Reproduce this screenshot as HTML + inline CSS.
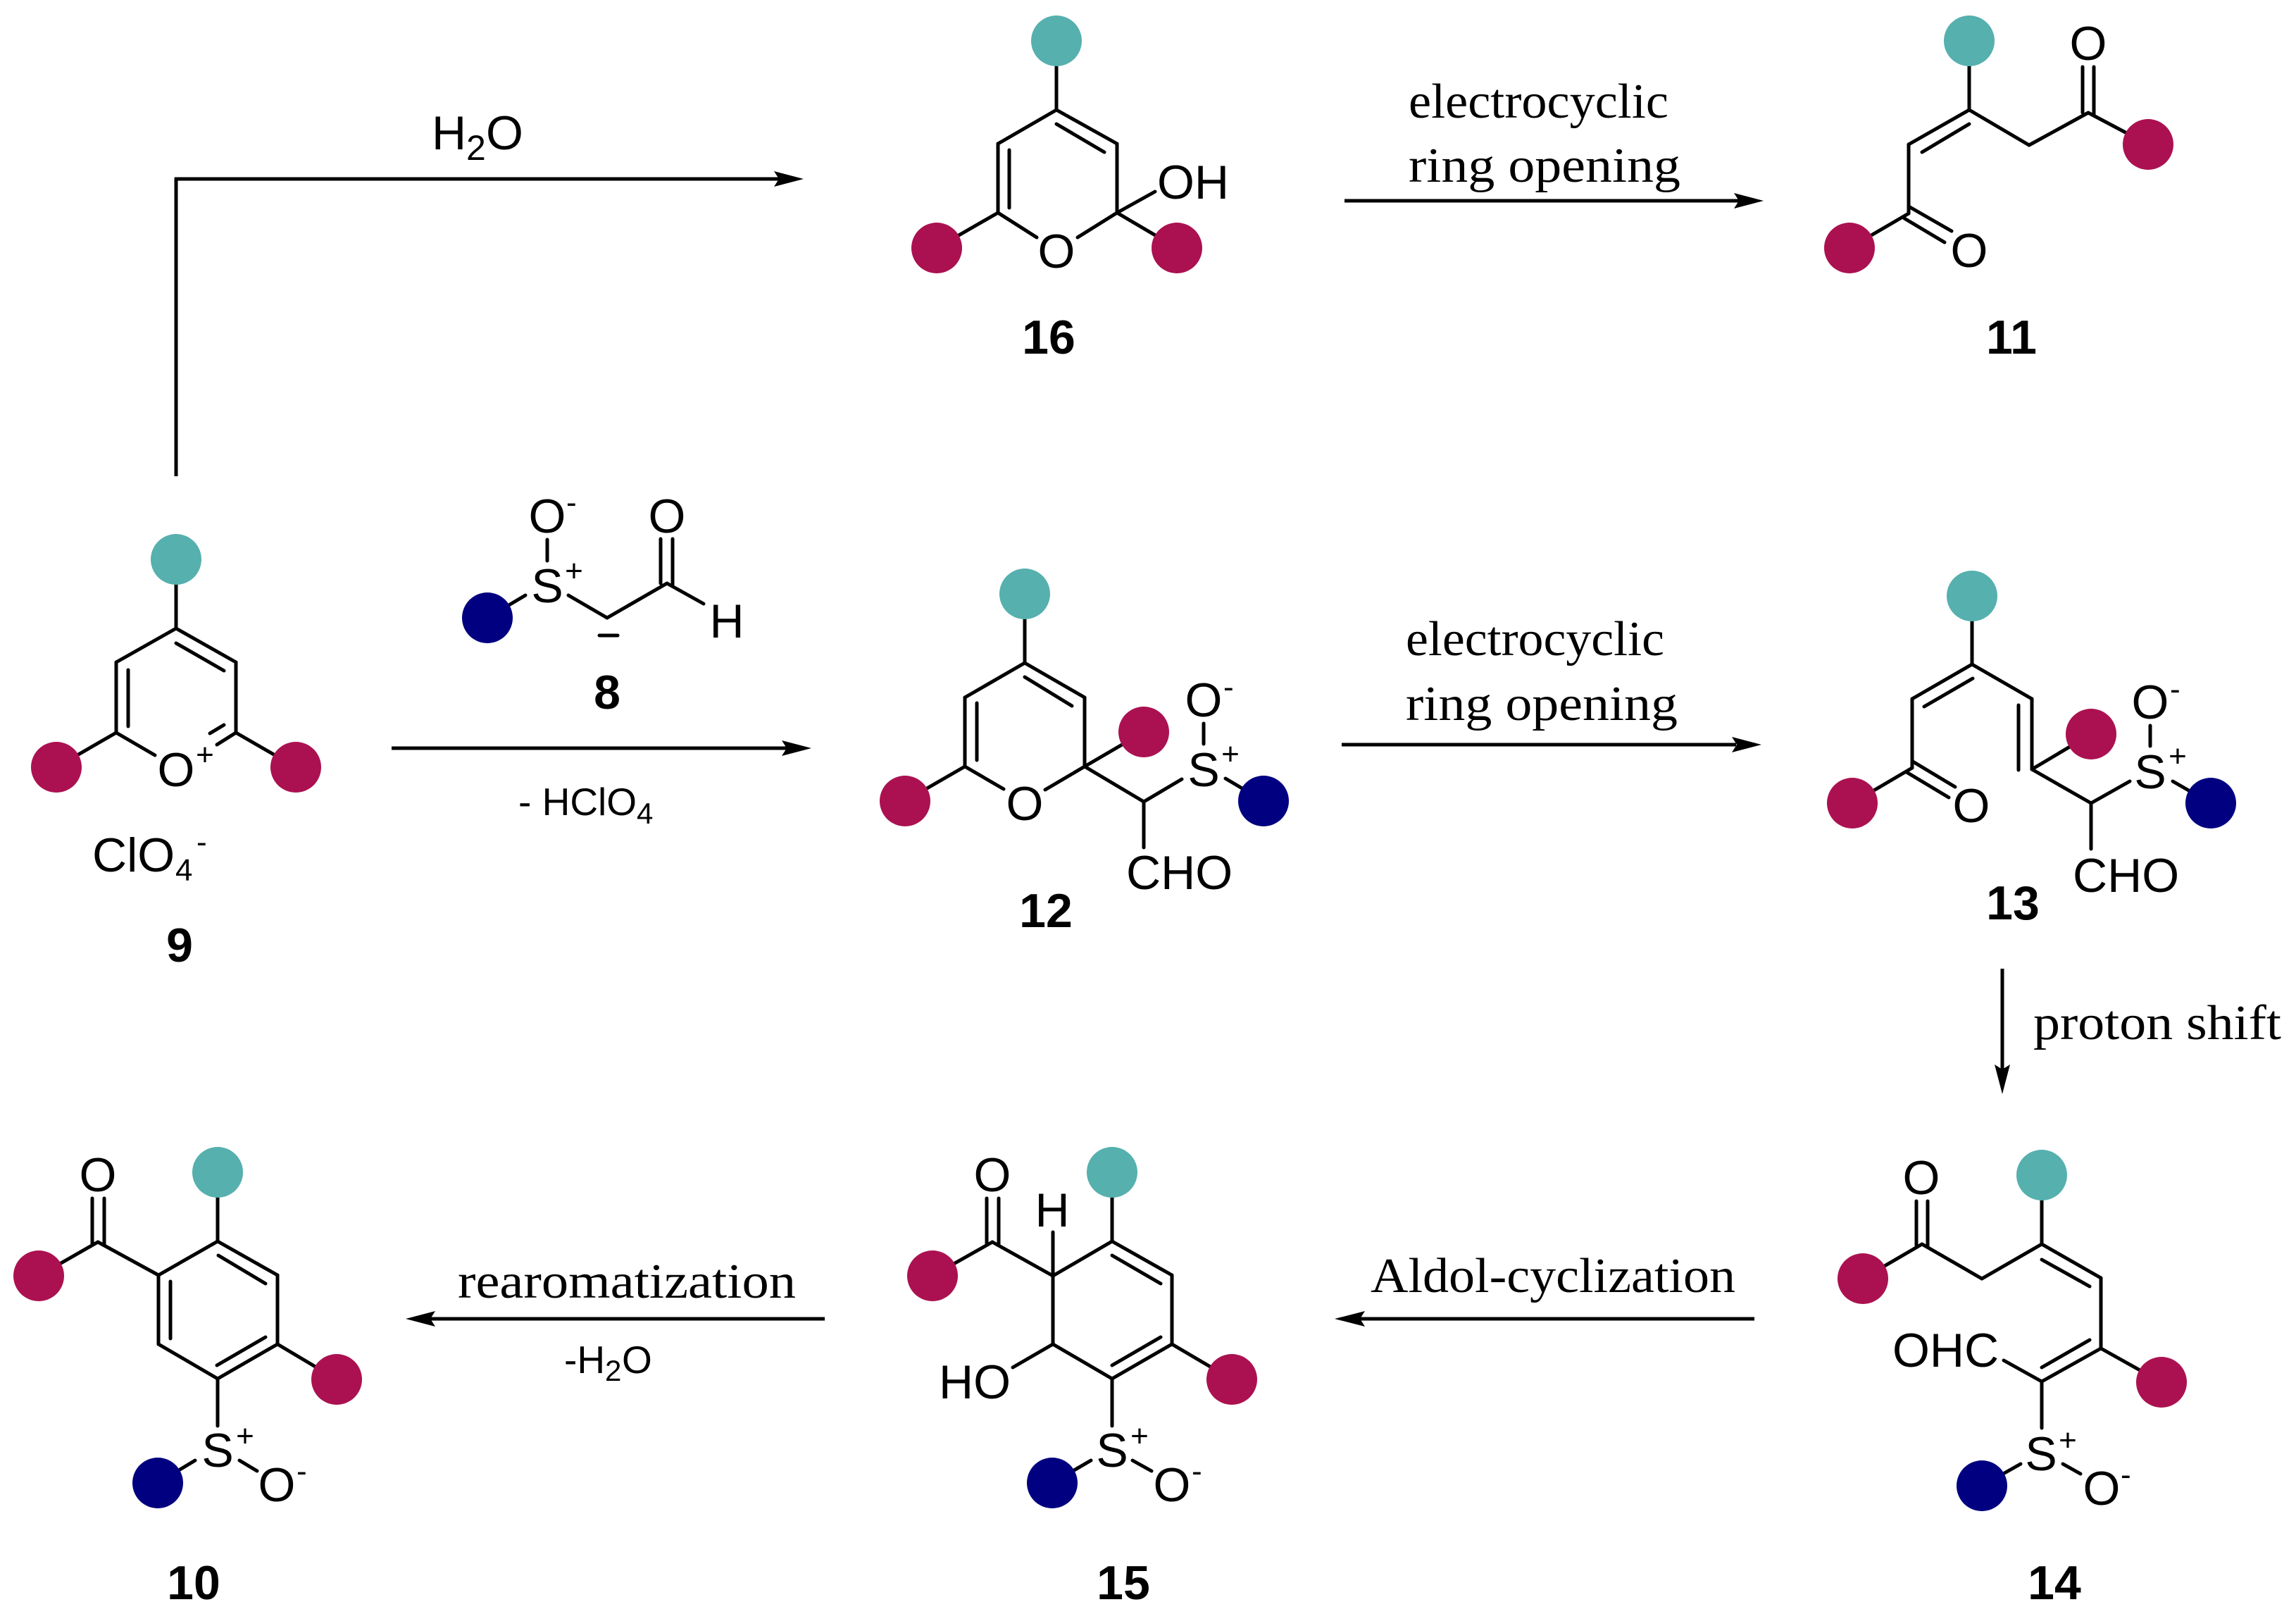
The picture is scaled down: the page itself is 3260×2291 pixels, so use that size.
<!DOCTYPE html>
<html><head><meta charset="utf-8"><style>
html,body{margin:0;padding:0;background:#fff}
svg{display:block}
text{font-family:"Liberation Sans",sans-serif;fill:#000}
.a{font-size:68px;text-anchor:middle}
.s{font-size:44px}
.p{font-size:44px;text-anchor:middle}
.b{font-size:68px;font-weight:bold;text-anchor:middle}
.r{font-family:"Liberation Serif",serif;font-size:70px}
.m{font-size:55px}
line{stroke:#000;stroke-width:5;stroke-linecap:round}
.ar{stroke-width:5;stroke-linecap:butt}
.t{fill:#55B0AE}.d{fill:#AB1150}.n{fill:#000080}
</style></head><body>
<svg xmlns="http://www.w3.org/2000/svg" width="3260" height="2291" viewBox="0 0 3260 2291">
<rect width="3260" height="2291" fill="#fff"/>

<!-- arrows -->
<line class="ar" x1="250" y1="676" x2="250" y2="252"/>
<line class="ar" x1="248" y1="254" x2="1110" y2="254"/>
<polygon points="1141,254 1099,243 1106,254 1099,265"/>
<line class="ar" x1="1909" y1="285" x2="2470" y2="285"/>
<polygon points="2504,285 2462,274 2469,285 2462,296"/>
<line class="ar" x1="556" y1="1062" x2="1118" y2="1062"/>
<polygon points="1152,1062 1110,1051 1117,1062 1110,1073"/>
<line class="ar" x1="1905" y1="1057" x2="2465" y2="1057"/>
<polygon points="2501,1057 2459,1046 2466,1057 2459,1068"/>
<line class="ar" x1="2843" y1="1375" x2="2843" y2="1520"/>
<polygon points="2843,1553 2832,1511 2843,1518 2854,1511"/>
<line class="ar" x1="2491" y1="1872" x2="1930" y2="1872"/>
<polygon points="1895,1872 1938,1861 1931,1872 1938,1883"/>
<line class="ar" x1="1171" y1="1872" x2="610" y2="1872"/>
<polygon points="576,1872 618,1861 611,1872 618,1883"/>

<!-- arrow labels -->
<text x="613" y="212" style="font-size:68px">H</text>
<text x="662" y="227" style="font-size:50px">2</text>
<text x="690" y="212" style="font-size:68px">O</text>
<text class="r" x="2000" y="167" textLength="369" lengthAdjust="spacingAndGlyphs">electrocyclic</text>
<text class="r" x="2000" y="258" textLength="386" lengthAdjust="spacingAndGlyphs">ring opening</text>
<text class="r" x="1996" y="930" textLength="367" lengthAdjust="spacingAndGlyphs">electrocyclic</text>
<text class="r" x="1996" y="1022" textLength="386" lengthAdjust="spacingAndGlyphs">ring opening</text>
<text class="r" x="2887" y="1475" textLength="352" lengthAdjust="spacingAndGlyphs">proton shift</text>
<text class="r" x="1946" y="1834" textLength="518" lengthAdjust="spacingAndGlyphs">Aldol-cyclization</text>
<text class="r" x="650" y="1842" textLength="480" lengthAdjust="spacingAndGlyphs">rearomatization</text>
<text class="m" x="736" y="1157">- HClO</text>
<text x="904" y="1169" style="font-size:42px">4</text>
<text class="m" x="801" y="1949">-H</text>
<text x="859" y="1960" style="font-size:42px">2</text>
<text class="m" x="883" y="1949">O</text>

<!-- 9 -->
<line x1="250" y1="794" x2="250" y2="892"/>
<line x1="250" y1="892" x2="165" y2="940"/><line x1="250" y1="892" x2="335" y2="940"/>
<line x1="165" y1="940" x2="165" y2="1040"/><line x1="335" y1="940" x2="335" y2="1040"/>
<line x1="182" y1="951" x2="182" y2="1031"/><line x1="250" y1="913" x2="318" y2="952"/>
<line x1="165" y1="1040" x2="80" y2="1089"/><line x1="335" y1="1040" x2="420" y2="1089"/>
<line x1="165" y1="1040" x2="220" y2="1072"/><line x1="335" y1="1040" x2="308" y2="1057"/>
<line x1="318" y1="1029" x2="298" y2="1041"/>
<circle class="t" cx="250" cy="794" r="36"/><circle class="d" cx="80" cy="1089" r="36"/><circle class="d" cx="420" cy="1089" r="36"/>
<text class="a" x="250" y="1116">O</text>
<text class="p" x="291" y="1086">+</text>
<text x="131" y="1237" style="font-size:68px">ClO</text>
<text x="249" y="1250" class="s">4</text>
<text x="279" y="1210" class="s">-</text>
<text class="b" x="255" y="1365">9</text>

<!-- 8 -->
<line x1="692" y1="877" x2="746" y2="845"/>
<line x1="777" y1="766" x2="777" y2="796"/>
<line x1="807" y1="845" x2="862" y2="877"/>
<line x1="862" y1="877" x2="947" y2="828"/>
<line x1="947" y1="828" x2="999" y2="857"/>
<line x1="938" y1="765" x2="938" y2="828"/><line x1="955" y1="765" x2="955" y2="832"/>
<line x1="851" y1="902" x2="877" y2="902"/>
<circle class="n" cx="692" cy="877" r="36"/>
<text class="a" x="777" y="756">O</text>
<text class="s" x="804" y="728">-</text>
<text class="a" x="777" y="855">S</text>
<text class="p" x="815" y="825">+</text>
<text class="a" x="947" y="756">O</text>
<text class="a" x="1032" y="905">H</text>
<text class="b" x="862" y="1006">8</text>

<!-- 16 -->
<line x1="1500" y1="58" x2="1500" y2="156"/>
<line x1="1500" y1="156" x2="1417" y2="204"/><line x1="1500" y1="156" x2="1586" y2="204"/>
<line x1="1417" y1="204" x2="1417" y2="302"/><line x1="1586" y1="204" x2="1586" y2="302"/>
<line x1="1433" y1="213" x2="1433" y2="295"/><line x1="1500" y1="176" x2="1568" y2="216"/>
<line x1="1417" y1="302" x2="1330" y2="352"/><line x1="1586" y1="302" x2="1671" y2="352"/>
<line x1="1417" y1="302" x2="1472" y2="337"/><line x1="1586" y1="302" x2="1530" y2="337"/>
<line x1="1586" y1="302" x2="1640" y2="272"/>
<circle class="t" cx="1500" cy="58" r="36"/><circle class="d" cx="1330" cy="352" r="36"/><circle class="d" cx="1671" cy="352" r="36"/>
<text class="a" x="1500" y="380">O</text>
<text x="1643" y="282" style="font-size:68px">OH</text>
<text class="b" x="1489" y="502">16</text>

<!-- 11 -->
<line x1="2796" y1="58" x2="2796" y2="156"/>
<line x1="2796" y1="156" x2="2710" y2="205"/><line x1="2796" y1="176" x2="2729" y2="216"/>
<line x1="2710" y1="205" x2="2710" y2="303"/>
<line x1="2710" y1="303" x2="2626" y2="352"/>
<line x1="2710" y1="293" x2="2771" y2="328"/><line x1="2704" y1="310" x2="2761" y2="344"/>
<line x1="2796" y1="156" x2="2881" y2="206"/><line x1="2881" y1="206" x2="2965" y2="160"/>
<line x1="2965" y1="160" x2="3050" y2="205"/>
<line x1="2957" y1="95" x2="2957" y2="160"/><line x1="2973" y1="95" x2="2973" y2="164"/>
<circle class="t" cx="2796" cy="58" r="36"/><circle class="d" cx="2626" cy="352" r="36"/><circle class="d" cx="3050" cy="205" r="36"/>
<text class="a" x="2965" y="85">O</text>
<text class="a" x="2796" y="379">O</text>
<text class="b" x="2856" y="502">11</text>

<!-- 12 -->
<line x1="1455" y1="843" x2="1455" y2="941"/>
<line x1="1455" y1="941" x2="1370" y2="990"/><line x1="1455" y1="941" x2="1540" y2="990"/>
<line x1="1370" y1="990" x2="1370" y2="1088"/><line x1="1540" y1="990" x2="1540" y2="1088"/>
<line x1="1387" y1="998" x2="1387" y2="1079"/><line x1="1455" y1="961" x2="1522" y2="1002"/>
<line x1="1370" y1="1088" x2="1285" y2="1137"/>
<line x1="1370" y1="1088" x2="1425" y2="1120"/><line x1="1540" y1="1088" x2="1484" y2="1121"/>
<line x1="1540" y1="1088" x2="1624" y2="1039"/><line x1="1540" y1="1088" x2="1624" y2="1138"/>
<line x1="1624" y1="1138" x2="1678" y2="1106"/><line x1="1624" y1="1138" x2="1624" y2="1203"/>
<line x1="1709" y1="1027" x2="1709" y2="1056"/>
<line x1="1740" y1="1105" x2="1794" y2="1137"/>
<circle class="t" cx="1455" cy="843" r="36"/><circle class="d" cx="1285" cy="1137" r="36"/><circle class="d" cx="1624" cy="1039" r="36"/><circle class="n" cx="1794" cy="1137" r="36"/>
<text class="a" x="1455" y="1164">O</text>
<text class="a" x="1709" y="1017">O</text>
<text class="s" x="1737" y="990">-</text>
<text class="a" x="1709" y="1116">S</text>
<text class="p" x="1747" y="1085">+</text>
<text x="1599" y="1262" style="font-size:68px">CHO</text>
<text class="b" x="1485" y="1316">12</text>

<!-- 13 -->
<line x1="2800" y1="846" x2="2800" y2="943"/>
<line x1="2800" y1="943" x2="2715" y2="992"/><line x1="2801" y1="963" x2="2732" y2="1003"/>
<line x1="2800" y1="943" x2="2885" y2="992"/>
<line x1="2715" y1="992" x2="2715" y2="1090"/>
<line x1="2885" y1="992" x2="2885" y2="1092"/><line x1="2866" y1="1001" x2="2866" y2="1093"/>
<line x1="2715" y1="1090" x2="2630" y2="1140"/>
<line x1="2716" y1="1081" x2="2776" y2="1117"/><line x1="2707" y1="1096" x2="2767" y2="1132"/>
<line x1="2885" y1="1092" x2="2969" y2="1042"/><line x1="2885" y1="1092" x2="2969" y2="1140"/>
<line x1="2969" y1="1140" x2="3024" y2="1109"/><line x1="2969" y1="1140" x2="2969" y2="1205"/>
<line x1="3053" y1="1030" x2="3053" y2="1059"/>
<line x1="3085" y1="1109" x2="3139" y2="1140"/>
<circle class="t" cx="2800" cy="846" r="36"/><circle class="d" cx="2630" cy="1140" r="36"/><circle class="d" cx="2969" cy="1042" r="36"/><circle class="n" cx="3139" cy="1140" r="36"/>
<text class="a" x="2799" y="1167">O</text>
<text class="a" x="3053" y="1020">O</text>
<text class="s" x="3081" y="993">-</text>
<text class="a" x="3053" y="1119">S</text>
<text class="p" x="3092" y="1088">+</text>
<text x="2943" y="1266" style="font-size:68px">CHO</text>
<text class="b" x="2858" y="1305">13</text>

<!-- 14 -->
<line x1="2899" y1="1668" x2="2899" y2="1766"/>
<line x1="2899" y1="1766" x2="2983" y2="1814"/><line x1="2899" y1="1788" x2="2967" y2="1826"/>
<line x1="2983" y1="1814" x2="2983" y2="1914"/>
<line x1="2983" y1="1914" x2="2899" y2="1961"/><line x1="2967" y1="1902" x2="2899" y2="1941"/>
<line x1="2983" y1="1914" x2="3069" y2="1962"/>
<line x1="2899" y1="1766" x2="2814" y2="1815"/><line x1="2814" y1="1815" x2="2729" y2="1766"/>
<line x1="2729" y1="1766" x2="2645" y2="1815"/>
<line x1="2721" y1="1705" x2="2721" y2="1768"/><line x1="2737" y1="1705" x2="2737" y2="1770"/>
<line x1="2845" y1="1931" x2="2899" y2="1961"/>
<line x1="2899" y1="1961" x2="2899" y2="2027"/>
<line x1="2814" y1="2109" x2="2869" y2="2078"/>
<line x1="2929" y1="2078" x2="2954" y2="2092"/>
<circle class="t" cx="2899" cy="1668" r="36"/><circle class="d" cx="2645" cy="1815" r="36"/><circle class="d" cx="3069" cy="1962" r="36"/><circle class="n" cx="2814" cy="2109" r="36"/>
<text class="a" x="2728" y="1695">O</text>
<text x="2687" y="1940" style="font-size:68px">OHC</text>
<text class="a" x="2898" y="2087">S</text>
<text class="p" x="2936" y="2059">+</text>
<text class="a" x="2984" y="2136">O</text>
<text class="s" x="3011" y="2108">-</text>
<text class="b" x="2917" y="2270">14</text>

<!-- 15 -->
<line x1="1579" y1="1664" x2="1579" y2="1762"/>
<line x1="1579" y1="1762" x2="1664" y2="1810"/><line x1="1579" y1="1782" x2="1648" y2="1822"/>
<line x1="1664" y1="1810" x2="1664" y2="1908"/>
<line x1="1664" y1="1908" x2="1579" y2="1957"/><line x1="1648" y1="1898" x2="1579" y2="1938"/>
<line x1="1579" y1="1957" x2="1495" y2="1908"/>
<line x1="1495" y1="1908" x2="1495" y2="1811"/>
<line x1="1495" y1="1811" x2="1579" y2="1762"/>
<line x1="1495" y1="1811" x2="1409" y2="1763"/>
<line x1="1409" y1="1763" x2="1324" y2="1811"/>
<line x1="1401" y1="1701" x2="1401" y2="1765"/><line x1="1418" y1="1701" x2="1418" y2="1767"/>
<line x1="1495" y1="1749" x2="1495" y2="1811"/>
<line x1="1495" y1="1908" x2="1438" y2="1941"/>
<line x1="1664" y1="1908" x2="1749" y2="1958"/>
<line x1="1579" y1="1957" x2="1579" y2="2024"/>
<line x1="1494" y1="2105" x2="1549" y2="2073"/>
<line x1="1608" y1="2073" x2="1635" y2="2088"/>
<circle class="t" cx="1579" cy="1664" r="36"/><circle class="d" cx="1324" cy="1811" r="36"/><circle class="d" cx="1749" cy="1958" r="36"/><circle class="n" cx="1494" cy="2105" r="36"/>
<text class="a" x="1409" y="1691">O</text>
<text class="a" x="1494" y="1741">H</text>
<text x="1333" y="1985" style="font-size:68px">HO</text>
<text class="a" x="1579" y="2082">S</text>
<text class="p" x="1618" y="2053">+</text>
<text class="a" x="1664" y="2131">O</text>
<text class="s" x="1692" y="2103">-</text>
<text class="b" x="1595" y="2270">15</text>

<!-- 10 -->
<line x1="309" y1="1664" x2="309" y2="1762"/>
<line x1="309" y1="1762" x2="394" y2="1810"/><line x1="310" y1="1782" x2="377" y2="1822"/>
<line x1="394" y1="1810" x2="394" y2="1908"/>
<line x1="394" y1="1908" x2="309" y2="1957"/><line x1="377" y1="1898" x2="308" y2="1938"/>
<line x1="309" y1="1957" x2="225" y2="1908"/>
<line x1="225" y1="1908" x2="225" y2="1810"/><line x1="242" y1="1819" x2="242" y2="1900"/>
<line x1="225" y1="1810" x2="309" y2="1762"/>
<line x1="225" y1="1810" x2="139" y2="1763"/>
<line x1="139" y1="1763" x2="55" y2="1811"/>
<line x1="131" y1="1701" x2="131" y2="1765"/><line x1="148" y1="1701" x2="148" y2="1767"/>
<line x1="394" y1="1908" x2="478" y2="1958"/>
<line x1="309" y1="1957" x2="309" y2="2024"/>
<line x1="224" y1="2105" x2="277" y2="2073"/>
<line x1="340" y1="2073" x2="365" y2="2088"/>
<circle class="t" cx="309" cy="1664" r="36"/><circle class="d" cx="55" cy="1811" r="36"/><circle class="d" cx="478" cy="1958" r="36"/><circle class="n" cx="224" cy="2105" r="36"/>
<text class="a" x="139" y="1691">O</text>
<text class="a" x="309" y="2082">S</text>
<text class="p" x="348" y="2053">+</text>
<text class="a" x="393" y="2131">O</text>
<text class="s" x="421" y="2103">-</text>
<text class="b" x="275" y="2270">10</text>
</svg>
</body></html>
